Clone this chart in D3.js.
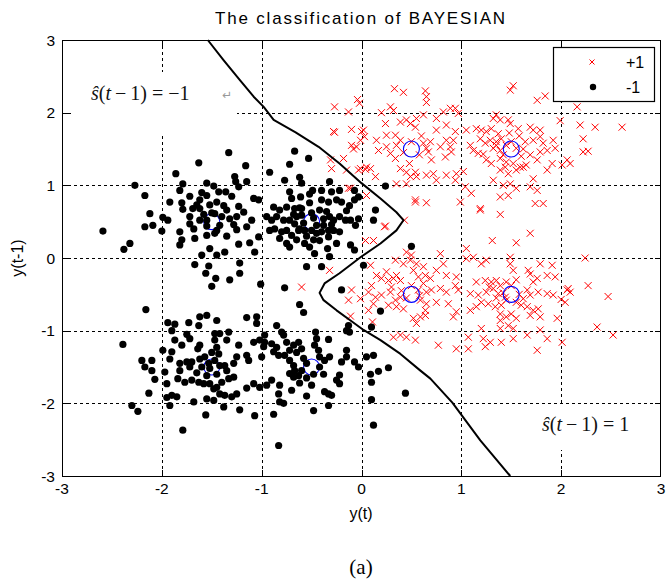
<!DOCTYPE html>
<html>
<head>
<meta charset="utf-8">
<script src="https://cdn.jsdelivr.net/npm/d3@7"></script>
<style>
  body { margin: 0; background: #fff; }
  svg { display: block; }
</style>
</head>
<body>
<svg id="chart" width="667" height="586"></svg>
<script>
// Axis ticks
const xTicks = [-3, -2, -1, 0, 1, 2, 3];
const yTicks = [-3, -2, -1, 0, 1, 2, 3];

// Class +1 samples [y(t), y(t-1)]
const classPos = [
  [-0.27,1.73],[0.02,1.76],[0.03,1.67],[-0.10,1.55],[-0.05,1.53],[-0.31,1.35],[-0.30,1.23],[-0.15,1.21],[-0.03,1.21],[0.04,1.22],
  [0.14,1.12],[-0.13,0.96],[0.05,0.86],[0.23,0.43],[0.12,0.24],[0.04,0.24],[0.43,0.52],[0.54,0.80],[-0.32,-0.17],[0.09,-0.10],[-0.60,-0.40],
  [0.33,2.33],[0.42,2.28],[0.64,2.30],[0.65,2.22],[0.65,2.14],[-0.27,2.08],[-0.13,2.01],[-0.04,2.18],[-0.02,2.13],[0.20,2.00],
  [0.29,2.08],[0.32,2.03],[0.24,1.85],[0.39,1.87],[0.45,1.90],[0.49,1.85],[0.55,1.92],[0.54,1.80],[0.62,1.97],[0.75,1.92],
  [0.82,2.01],[0.89,2.06],[0.94,2.06],[0.97,1.99],[0.75,1.76],[0.85,1.83],[0.94,1.74],[0.92,1.62],[-0.28,1.74],[-0.10,1.77],
  [0.00,1.74],[0.15,1.62],[0.25,1.69],[0.34,1.69],[0.39,1.62],[0.17,1.48],[0.25,1.53],[0.29,1.44],[0.34,1.37],[-0.08,1.50],
  [-0.01,1.62],[0.62,1.58],[0.65,1.51],[0.69,1.60],[0.67,1.46],[0.79,1.53],[0.85,1.62],[0.89,1.53],[0.90,1.46],[0.84,1.39],
  [-0.18,1.37],[-0.01,1.23],[0.05,1.25],[0.09,1.23],[0.39,1.23],[0.45,1.18],[0.54,1.18],[0.49,1.12],[0.55,1.12],[0.65,1.14],
  [0.72,1.16],[0.75,1.07],[0.85,1.14],[0.95,1.16],[0.94,1.07],[1.02,1.19],[0.35,1.02],[0.45,1.02],[-0.11,0.96],[0.54,0.77],
  [0.65,0.76],[0.99,0.77],[0.50,1.60],[0.42,1.45],[0.58,1.42],[0.60,1.68],[0.35,1.55],[0.70,1.35],[0.48,1.30],
  [1.49,2.31],[1.52,2.37],[1.76,2.17],[1.84,2.23],[2.16,2.08],[1.32,1.92],[1.35,1.97],[1.39,1.90],[1.47,1.90],[1.49,1.85],
  [1.05,1.76],[1.15,1.78],[1.20,1.76],[1.25,1.74],[1.30,1.78],[1.37,1.71],[1.57,1.78],[1.69,1.80],[1.72,1.76],[1.79,1.76],
  [1.19,1.64],[1.24,1.58],[1.29,1.62],[1.35,1.60],[1.40,1.64],[1.09,1.55],[1.12,1.48],[1.17,1.44],[1.22,1.43],[1.32,1.51],
  [1.39,1.48],[1.45,1.55],[1.55,1.51],[1.64,1.60],[1.72,1.62],[1.79,1.67],[1.82,1.58],[1.92,1.62],[1.94,1.51],[1.86,1.48],
  [1.69,1.42],[1.76,1.35],[1.79,1.46],[1.25,1.35],[1.30,1.30],[1.39,1.37],[1.45,1.32],[1.52,1.30],[1.59,1.25],[1.65,1.28],
  [1.39,1.21],[1.47,1.16],[1.44,1.25],[1.55,1.21],[1.62,1.25],[1.32,1.07],[1.42,1.00],[1.49,1.02],[1.55,0.96],[1.72,1.09],
  [1.86,1.21],[1.91,1.30],[1.69,0.98],[1.76,0.93],[1.99,1.89],[2.06,1.35],[2.09,1.30],[2.19,1.83],[2.34,1.80],[2.61,1.80],
  [2.22,1.64],[2.22,1.46],[2.27,1.47],[2.01,1.28],[1.04,0.98],[1.10,0.89],[1.39,0.84],[1.47,0.86],[1.19,0.68],[1.74,0.75],
  [1.82,0.75],[1.50,1.60],[1.42,1.42],[1.60,1.40],[1.58,1.68],[1.35,1.55],[1.62,1.50],[1.48,1.72],
  [1.19,0.66],[1.39,0.60],[1.69,0.34],[1.55,0.21],[1.31,0.24],[0.24,0.44],[1.05,0.13],[0.45,0.08],[0.50,0.04],[0.79,0.06],
  [-0.10,-0.44],[-0.13,-0.58],[-0.01,-0.56],[-0.11,-0.80],[0.11,-0.88],
  [0.15,-0.24],[0.10,-0.38],[0.07,-0.47],[0.14,-0.54],[0.12,-0.63],[0.07,-0.72],[0.20,-0.28],[0.27,-0.31],[0.32,-0.28],[0.39,-0.31],
  [0.35,-0.24],[0.25,-0.19],[0.34,-0.03],[0.42,-0.08],[0.49,-0.03],[0.55,-0.08],[0.62,-0.12],[0.52,-0.17],[0.57,-0.26],[0.64,-0.24],
  [0.69,-0.28],[0.75,-0.17],[0.82,-0.08],[0.20,-0.51],[0.29,-0.47],[0.34,-0.58],[0.39,-0.54],[0.27,-0.65],[0.35,-0.67],[0.42,-0.70],
  [0.57,-0.44],[0.65,-0.47],[0.70,-0.44],[0.79,-0.42],[0.85,-0.47],[0.59,-0.58],[0.65,-0.63],[0.64,-0.72],[0.75,-0.61],[0.87,-0.63],
  [0.52,-0.83],[0.59,-0.81],[0.64,-0.79],[0.55,-0.90],[0.94,-0.38],[0.97,-0.44],[0.92,-0.81],[0.95,-0.74],[0.85,-0.24],[0.95,-0.26],
  [1.09,-0.72],[1.15,-0.67],[0.50,-0.38],[0.45,-0.55],[0.58,-0.52],[0.30,-0.40],[0.62,-0.35],[0.40,-0.45],
  [1.05,-0.01],[1.12,0.01],[1.20,-0.08],[1.25,-0.03],[1.49,0.01],[1.49,-0.08],[1.52,-0.17],[1.67,-0.17],[1.69,-0.22],[1.76,-0.28],
  [1.72,-0.33],[1.79,-0.08],[1.91,-0.10],[1.94,-0.26],[1.86,-0.24],[1.15,-0.33],[1.24,-0.31],[1.30,-0.33],[1.35,-0.31],[1.39,-0.38],
  [1.45,-0.33],[1.09,-0.49],[1.17,-0.51],[1.25,-0.47],[1.32,-0.42],[1.37,-0.49],[1.44,-0.54],[1.20,-0.61],[1.27,-0.63],[1.34,-0.67],
  [1.40,-0.65],[1.45,-0.58],[1.55,-0.61],[1.62,-0.56],[1.66,-0.44],[1.69,-0.51],[1.77,-0.47],[1.86,-0.49],[1.92,-0.51],[1.66,-0.67],
  [1.72,-0.72],[1.77,-0.70],[1.69,-0.79],[1.79,-0.81],[1.39,-0.77],[1.45,-0.81],[1.50,-0.77],[1.55,-0.83],[1.47,-0.93],[1.52,-0.97],
  [1.39,-0.86],[1.20,-0.97],[1.39,-0.97],[1.07,-1.09],[1.22,-1.11],[1.29,-1.16],[1.40,-1.16],[1.52,-1.11],[1.66,-1.06],[1.79,-0.99],
  [1.86,-1.11],[2.00,-0.57],[2.04,-0.61],[2.06,-0.44],[2.07,-0.42],[2.09,-0.47],[1.96,-0.83],[2.01,-1.16],[2.27,-0.38],[2.47,-0.53],
  [2.24,0.00],[2.36,-0.95],[2.52,-1.06],[0.32,-1.09],[0.39,-1.06],[0.45,-1.09],[0.54,-1.13],[0.77,-1.20],[0.95,-1.25],[1.07,-1.25],
  [1.24,-1.22],[1.76,-1.27],[1.50,-0.38],[1.42,-0.48],[1.58,-0.50],[1.55,-0.30],[1.60,-0.65],[1.35,-0.55],[1.28,-0.40]
];

// Class -1 samples [y(t), y(t-1)]
const classNeg = [
  [-1.33,1.45],[-1.63,1.31],[-1.16,1.27],[-1.86,1.16],[-1.27,1.12],[-1.26,1.05],[-1.15,1.05],[-2.27,1.00],[-2.17,0.86],[-1.79,1.02],
  [-1.82,0.93],[-1.55,1.03],[-1.48,0.99],[-1.23,0.98],[-1.43,0.91],[-1.36,0.91],[-1.55,0.86],[-1.62,0.80],[-1.65,0.73],[-1.52,0.73],
  [-1.45,0.77],[-1.92,0.77],[-1.80,0.76],[-1.79,0.67],[-1.69,0.68],[-1.62,0.68],[-1.72,0.57],[-1.72,0.47],[-1.62,0.52],[-1.55,0.52],
  [-1.55,0.44],[-1.47,0.61],[-1.40,0.57],[-1.32,0.54],[-1.25,0.57],[-1.23,0.71],[-1.18,0.63],[-1.08,0.82],[-1.03,0.80],[-2.12,0.61],
  [-1.99,0.56],[-1.94,0.52],[-2.59,0.37],[-2.17,0.43],[-2.09,0.45],[-2.00,0.37],[-2.32,0.20],[-2.38,0.12],[-1.82,0.36],[-1.80,0.25],
  [-1.82,0.18],[-1.67,0.27],[-1.55,0.31],[-1.47,0.34],[-1.35,0.30],[-1.25,0.39],[-1.15,0.43],[-1.10,0.52],[-1.03,0.29],[-1.12,0.21],
  [-1.23,0.19],[-1.52,0.13],[-1.60,0.04],[-1.45,0.04],[-1.37,0.08],[-1.67,-0.09],[-1.53,-0.11],[-1.56,-0.21],[-1.46,-0.28],[-1.50,-0.39],
  [-1.22,-0.07],[-1.22,-0.21],[-1.32,-0.30],[-1.07,0.08],[-1.50,0.62],[-1.42,0.45],[-1.58,0.60],[-1.35,0.66],[-1.45,0.38],[-1.28,0.46],
  [-1.68,0.40],[-1.38,0.72],[-1.60,0.90],[-1.30,0.85],[-1.72,0.85],
  [-0.67,1.47],[-0.53,1.37],[-0.72,1.29],[-0.92,1.18],[-0.62,1.11],[-0.60,1.03],[-0.77,1.07],[-0.32,1.05],[-0.49,0.93],[-0.40,0.93],
  [-0.30,0.91],[-0.22,0.93],[-0.07,0.93],[-0.07,0.80],[-0.03,0.84],[-0.72,0.91],[-0.70,0.82],[-0.61,0.84],[-0.52,0.76],[-0.40,0.80],
  [-0.33,0.77],[-0.25,0.80],[-0.20,0.77],[-0.88,0.70],[-0.82,0.66],[-0.75,0.70],[-0.67,0.68],[-0.62,0.69],[-0.95,0.57],[-0.90,0.52],
  [-0.85,0.57],[-0.78,0.52],[-0.72,0.52],[-0.65,0.57],[-0.67,0.47],[-0.60,0.59],[-0.42,0.66],[-0.35,0.64],[-0.32,0.57],[-0.38,0.54],
  [-0.28,0.52],[-0.22,0.57],[-0.16,0.52],[-0.11,0.52],[-0.06,0.45],[-0.03,0.54],[-0.92,0.38],[-0.87,0.40],[-0.80,0.36],[-0.75,0.38],
  [-0.70,0.31],[-0.63,0.38],[-0.57,0.38],[-0.50,0.38],[-0.45,0.34],[-0.40,0.36],[-0.33,0.38],[-0.28,0.38],[-0.22,0.36],[-0.33,0.29],
  [-0.42,0.24],[-0.82,0.27],[-0.75,0.20],[-0.72,0.15],[-0.65,0.25],[-0.57,0.20],[-0.48,0.25],[-0.52,0.15],[-0.47,0.06],[-0.34,0.13],
  [-0.25,0.20],[-0.11,0.18],[-0.07,0.11],[-0.32,0.02],[-0.55,-0.12],[-0.40,-0.12],[0.02,-0.10],[0.14,0.66],[0.12,0.52],[0.24,0.99],
  [0.50,0.16],[-1.01,-0.36],[-0.50,0.62],[-0.45,0.45],[-0.58,0.48],[-0.62,0.40],[-0.55,0.30],[-0.38,0.45],[-0.48,0.55],[-0.60,0.68],
  [-0.30,0.46],[-0.68,0.60],[-0.52,0.88],[-0.15,0.65],[-0.12,0.72],
  [-2.16,-0.71],[-1.55,-0.79],[-1.62,-0.81],[-1.45,-0.86],[-1.94,-0.89],[-1.87,-0.91],[-1.73,-0.89],[-1.63,-0.93],[-1.15,-0.82],[-1.05,-0.81],
  [-1.05,-0.90],[-1.90,-1.00],[-1.75,-1.05],[-1.72,-1.11],[-1.87,-1.13],[-1.80,-1.20],[-1.47,-1.04],[-1.42,-1.04],[-1.33,-1.02],[-1.47,-1.13],
  [-1.35,-1.13],[-1.23,-1.20],[-1.25,-1.36],[-1.28,-1.45],[-1.15,-1.34],[-1.13,-1.41],[-1.08,-1.16],[-1.02,-1.13],[-0.98,-1.22],[-1.00,-1.36],
  [-2.39,-1.19],[-1.99,-1.27],[-1.90,-1.29],[-1.92,-1.39],[-1.64,-1.25],[-1.45,-1.23],[-1.43,-1.32],[-1.47,-1.41],[-2.20,-1.41],[-2.17,-1.50],
  [-2.10,-1.41],[-2.10,-1.55],[-1.82,-1.45],[-1.75,-1.43],[-1.70,-1.43],[-1.72,-1.50],[-1.62,-1.39],[-1.57,-1.36],[-1.53,-1.45],[-1.52,-1.52],
  [-1.42,-1.48],[-1.37,-1.48],[-1.97,-1.57],[-1.82,-1.55],[-1.84,-1.66],[-1.77,-1.71],[-2.07,-1.67],[-1.95,-1.73],[-1.70,-1.68],[-1.63,-1.71],
  [-1.58,-1.73],[-1.52,-1.73],[-1.48,-1.80],[-1.45,-1.78],[-1.40,-1.71],[-1.33,-1.66],[-1.28,-1.64],[-1.42,-1.87],[-1.37,-1.89],[-1.30,-1.91],
  [-1.25,-1.87],[-1.15,-1.79],[-1.08,-1.73],[-1.02,-1.78],[-0.95,-1.75],[-2.13,-1.86],[-1.90,-1.89],[-1.85,-1.91],[-1.95,-1.92],[-1.92,-2.03],
  [-1.68,-1.98],[-1.55,-1.94],[-1.48,-1.96],[-2.30,-2.03],[-2.24,-2.11],[-1.38,-2.05],[-1.22,-2.09],[-1.56,-2.16],[-1.07,-2.17],[-1.79,-2.37],
  [-1.60,-1.50],[-1.45,-1.60],[-1.55,-1.62],[-1.65,-1.58],[-1.35,-1.55],[-1.50,-1.30],[-1.62,-1.20],
  [-0.77,-0.41],[-0.62,-0.64],[-0.58,-0.75],[-0.85,-0.93],[-0.80,-1.02],[-0.78,-1.06],[-0.97,-1.06],[-0.97,-1.16],[-0.90,-1.18],[-0.85,-1.23],
  [-0.88,-1.29],[-0.83,-1.34],[-0.75,-1.16],[-0.68,-1.20],[-0.63,-1.16],[-0.60,-1.25],[-0.72,-1.27],[-0.77,-1.34],[-0.72,-1.41],[-0.68,-1.48],
  [-0.67,-1.55],[-0.72,-1.59],[-0.68,-1.64],[-0.63,-1.62],[-0.46,-1.02],[-0.45,-1.11],[-0.47,-1.20],[-0.43,-1.27],[-0.42,-1.36],[-0.33,-1.12],
  [-0.32,-1.36],[-0.37,-1.41],[-0.15,-1.27],[-0.15,-1.36],[-0.20,-1.43],[-0.07,-1.43],[-0.03,-1.50],[-0.22,-1.61],[-0.25,-1.68],[-0.22,-1.73],
  [0.05,-1.36],[0.12,-1.34],[0.17,-1.56],[0.27,-1.51],[0.09,-1.60],[0.10,-1.71],[0.44,-1.86],[0.10,-1.95],[0.12,-2.30],[-0.90,-1.68],
  [-0.82,-1.75],[-0.70,-1.82],[-0.83,-1.87],[-0.82,-1.98],[-0.78,-2.00],[-0.88,-2.15],[-0.55,-1.90],[-0.37,-1.84],[-0.33,-1.87],[-0.30,-1.89],
  [-0.48,-2.10],[-0.33,-2.03],[-0.83,-2.58],[-0.13,-0.93],[-0.15,-1.00],[-0.12,-1.02],[0.19,-0.73],[0.10,-0.95],[-0.20,-0.44],
  [-0.55,-1.45],[-0.60,-1.55],[-0.48,-1.60],[-0.42,-1.50],[-0.58,-1.38],[-0.65,-1.30],[-0.55,-1.65],[-0.62,-1.72],[-0.50,-1.75],[-0.38,-1.60]
];

// Cluster centres (open blue circles)
const centers = [[-1.5,0.5],[-0.5,0.5],[-1.5,-1.5],[-0.5,-1.5],[0.5,1.5],[1.5,1.5],[0.5,-0.5],[1.5,-0.5]];

// Bayesian decision boundary
const boundary = [
  [-1.54,3.0],[-1.38,2.72],[-1.22,2.45],[-1.08,2.22],[-0.98,2.08],[-0.88,1.90],[-0.66,1.73],[-0.43,1.53],[-0.22,1.30],[0.0,1.03],
  [0.19,0.82],[0.35,0.63],[0.42,0.52],[0.35,0.38],[0.19,0.20],[0.0,0.02],[-0.22,-0.21],[-0.37,-0.35],[-0.42,-0.48],[-0.38,-0.58],
  [-0.25,-0.72],[-0.11,-0.86],[0.02,-0.99],[0.19,-1.13],[0.39,-1.32],[0.59,-1.55],[0.69,-1.66],[0.91,-1.99],[1.19,-2.51],[1.49,-3.0]
];

const legendLabels = ["+1", "-1"];

const svg = d3.select("#chart");
const x = d3.scaleLinear().domain([-3, 3]).range([62, 661]);
const y = d3.scaleLinear().domain([-3, 3]).range([476, 40]);
const sans = "'Liberation Sans', Arial, Helvetica, sans-serif";
const serif = "'Liberation Serif', 'Times New Roman', Times, serif";
const snap = v => Math.round(v) + 0.5;

// dashed grid
const grid = svg.append("g").attr("stroke", "#000").attr("stroke-width", 1)
  .attr("stroke-dasharray", "3,3").attr("shape-rendering", "crispEdges");
grid.selectAll("line.gx").data(xTicks.slice(1, -1)).join("line")
  .attr("x1", d => snap(x(d))).attr("x2", d => snap(x(d)))
  .attr("y1", y(3)).attr("y2", y(-3));
grid.selectAll("line.gy").data(yTicks.slice(1, -1)).join("line")
  .attr("y1", d => snap(y(d))).attr("y2", d => snap(y(d)))
  .attr("x1", x(-3)).attr("x2", x(3));

// inward tick marks
const ticks = svg.append("g").attr("stroke", "#000").attr("stroke-width", 1).attr("shape-rendering", "crispEdges");
xTicks.slice(1, -1).forEach(t => {
  ticks.append("line").attr("x1", snap(x(t))).attr("x2", snap(x(t))).attr("y1", y(-3)).attr("y2", y(-3) - 6);
  ticks.append("line").attr("x1", snap(x(t))).attr("x2", snap(x(t))).attr("y1", y(3)).attr("y2", y(3) + 6);
});
yTicks.slice(1, -1).forEach(t => {
  ticks.append("line").attr("y1", snap(y(t))).attr("y2", snap(y(t))).attr("x1", x(-3)).attr("x2", x(-3) + 6);
  ticks.append("line").attr("y1", snap(y(t))).attr("y2", snap(y(t))).attr("x1", x(3)).attr("x2", x(3) - 6);
});

// white backgrounds of the annotation boxes
svg.append("rect").attr("x", 73).attr("y", 72).attr("width", 164).attr("height", 61).attr("fill", "#fff");
svg.append("rect").attr("x", 525).attr("y", 404).attr("width", 130).attr("height", 46).attr("fill", "#fff");

// +1 samples as crosses
const cross = "M-3.5,-3.5L3.5,3.5M-3.5,3.5L3.5,-3.5";
svg.append("g").selectAll("path").data(classPos).join("path")
  .attr("d", cross)
  .attr("transform", d => `translate(${x(d[0])},${y(d[1])})`)
  .attr("stroke", "#ff0000").attr("stroke-width", 1).attr("fill", "none");

// cluster centres
svg.append("g").selectAll("circle").data(centers).join("circle")
  .attr("cx", d => x(d[0])).attr("cy", d => y(d[1])).attr("r", 8)
  .attr("fill", "none").attr("stroke", "#0000ff").attr("stroke-width", 1.1);

// -1 samples as dots
svg.append("g").selectAll("circle").data(classNeg).join("circle")
  .attr("cx", d => x(d[0])).attr("cy", d => y(d[1])).attr("r", 3.6)
  .attr("fill", "#000");

// decision boundary
svg.append("path").datum(boundary)
  .attr("d", d3.line().x(d => x(d[0])).y(d => y(d[1])))
  .attr("fill", "none").attr("stroke", "#000").attr("stroke-width", 2).attr("stroke-linejoin", "round");

// axes box
svg.append("rect").attr("x", x(-3) + 0.5).attr("y", y(3) + 0.5)
  .attr("width", x(3) - x(-3) - 1).attr("height", y(-3) - y(3))
  .attr("fill", "none").attr("stroke", "#000").attr("stroke-width", 1).attr("shape-rendering", "crispEdges");

// tick labels
svg.append("g").selectAll("text").data(xTicks).join("text")
  .attr("x", d => x(d)).attr("y", 494)
  .attr("text-anchor", "middle").attr("font-family", sans).attr("font-size", 15.5)
  .text(d => d);
svg.append("g").selectAll("text").data(yTicks).join("text")
  .attr("x", 55).attr("y", d => y(d) + 5.5)
  .attr("text-anchor", "end").attr("font-family", sans).attr("font-size", 15.5)
  .text(d => d);

// titles
svg.append("text").attr("x", 361).attr("y", 24).attr("text-anchor", "middle")
  .attr("font-family", sans).attr("font-size", 17).attr("letter-spacing", 1.8)
  .text("The classification of BAYESIAN");
svg.append("text").attr("x", 361).attr("y", 519).attr("text-anchor", "middle")
  .attr("font-family", sans).attr("font-size", 16).text("y(t)");
svg.append("text").attr("transform", "translate(23,258) rotate(-90)").attr("text-anchor", "middle")
  .attr("font-family", sans).attr("font-size", 16).text("y(t-1)");
svg.append("text").attr("x", 361).attr("y", 574).attr("text-anchor", "middle")
  .attr("font-family", serif).attr("font-size", 21).text("(a)");

// legend
const lg = svg.append("g");
lg.append("rect").attr("x", 553.5).attr("y", 47.5).attr("width", 101).attr("height", 54)
  .attr("fill", "#fff").attr("stroke", "#000").attr("stroke-width", 1.2);
lg.append("path").attr("d", "M-2.5,-2.5L2.5,2.5M-2.5,2.5L2.5,-2.5")
  .attr("transform", "translate(592,62)").attr("stroke", "#ff0000").attr("stroke-width", 1);
lg.append("circle").attr("cx", 593).attr("cy", 87).attr("r", 3.2).attr("fill", "#000");
lg.selectAll("text").data(legendLabels).join("text")
  .attr("x", 626).attr("y", (d, i) => 68 + i * 25)
  .attr("font-family", sans).attr("font-size", 16).text(d => d);

// region annotations  ŝ(t−1) = ±1
function stateLabel(px, py, value) {
  const t = svg.append("text").attr("x", px).attr("y", py)
    .attr("font-family", serif).attr("font-size", 20).attr("fill", "#111");
  t.append("tspan").attr("font-style", "italic").text("\u015D");
  t.append("tspan").text("(");
  t.append("tspan").attr("font-style", "italic").text("t");
  t.append("tspan").text("\u2009\u2212\u20091) = " + value);
  return t;
}
stateLabel(91, 100, "\u22121");
svg.append("text").attr("x", 222).attr("y", 99).attr("font-family", "'DejaVu Sans', sans-serif")
  .attr("font-size", 12).attr("fill", "#999").text("\u21B5");
stateLabel(542, 431, "1");
</script>
</body>
</html>
